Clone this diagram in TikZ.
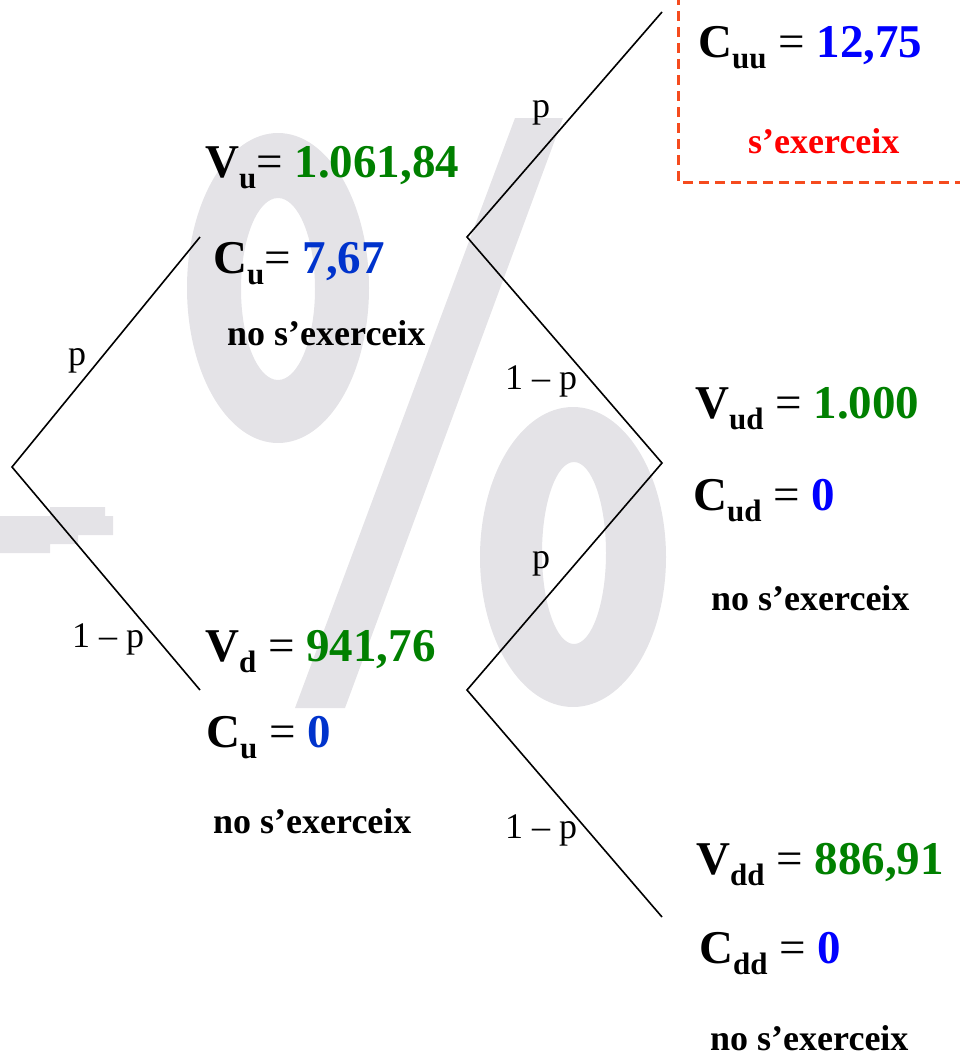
\documentclass[tikz,border=0pt]{standalone}
\usepackage{fontspec}
\setmainfont{Liberation Serif}
\definecolor{vgreen}{RGB}{0,128,0}
\definecolor{cblue}{RGB}{0,0,255}
\definecolor{cbluedark}{RGB}{0,51,204}
\definecolor{wmgrey}{RGB}{228,227,231}
\definecolor{boxred}{RGB}{245,75,30}
\definecolor{notered}{RGB}{255,0,0}
\newcommand{\sbs}[1]{{\fontsize{31}{31}\selectfont\lower11pt\hbox{#1}}}
\newcommand{\eqs}{\textmd{=}}
\tikzset{
  val/.style={anchor=base west, inner sep=0pt, font=\fontsize{47}{47}\selectfont\bfseries},
  lbl/.style={anchor=base west, inner sep=0pt, font=\fontsize{36}{36}\selectfont},
  note/.style={anchor=base west, inner sep=0pt, font=\fontsize{36}{36}\selectfont\bfseries},
  branch/.style={draw=black, line width=1.6pt},
  wm/.style={fill=wmgrey, draw=none},
  exbox/.style={draw=boxred, line width=3pt, dash pattern=on 10pt off 6pt}
}
\begin{document}
\begin{tikzpicture}[x=1pt,y=-1pt]
\useasboundingbox (0,0) rectangle (959,1057);
% watermark
\fill[wm, even odd rule] (278,288) ellipse [x radius=91, y radius=155] (278,289) ellipse [x radius=37, y radius=91];
\fill[wm, even odd rule] (573,557) ellipse [x radius=93, y radius=150] (574,553) ellipse [x radius=32, y radius=91];
\fill[wm] (515,118) -- (563,118) -- (345,708) -- (295,708) -- cycle;
\fill[wm] (0,516) -- (50,516) -- (50,507) -- (105,507) -- (105,516) -- (113,516) -- (113,535) -- (78,535) -- (78,544) -- (50,544) -- (50,553) -- (0,553) -- cycle;
% dashed box
\coordinate (bxtop) at (678,-5);
\coordinate (bxcorner) at (678,182);
\coordinate (bxright) at (965,182);
\draw[exbox] (bxtop) -- (bxcorner) -- (bxright);
% tree vertices
\coordinate (r) at (12,467);
\coordinate (u) at (200,237);
\coordinate (d) at (200,690);
\coordinate (u2) at (467,237);
\coordinate (d2) at (467,690);
\coordinate (uu) at (662,12);
\coordinate (ud) at (662,463);
\coordinate (dd) at (662,917);
\draw[branch] (u) -- (r) -- (d);
\draw[branch] (uu) -- (u2) -- (ud) -- (d2) -- (dd);
% branch labels
\node[lbl] (l1) at (68,365) {p};
\node[lbl] (l2) at (72,647) {1 – p};
\node[lbl] (l3) at (532,117) {p};
\node[lbl] (l4) at (505,389) {1 – p};
\node[lbl] (l5) at (532,568) {p};
\node[lbl] (l6) at (505,838) {1 – p};
% values
\node[val] (cuu) at (698,57) {C\sbs{uu} \eqs{} \textcolor{cblue}{12,75}};
\node[note, text=notered] (ex) at (748,153) {s’exerceix};
\node[val] (vu) at (205,177) {V\sbs{u}\eqs{} \textcolor{vgreen}{1.061,84}};
\node[val] (cu) at (213,273) {C\sbs{u}\eqs{} \textcolor{cbluedark}{7,67}};
\node[note] (nu) at (227,345) {no s’exerceix};
\node[val] (vud) at (695,418) {V\sbs{ud} \eqs{} \textcolor{vgreen}{1.000}};
\node[val] (cud) at (693,510) {C\sbs{ud} \eqs{} \textcolor{cblue}{0}};
\node[note] (nud) at (711,610) {no s’exerceix};
\node[val] (vd) at (205,661) {V\sbs{d} \eqs{} \textcolor{vgreen}{941,76}};
\node[val] (cd) at (206,747) {C\sbs{u} \eqs{} \textcolor{cbluedark}{0}};
\node[note] (nd) at (213,833) {no s’exerceix};
\node[val] (vdd) at (696,874) {V\sbs{dd} \eqs{} \textcolor{vgreen}{886,91}};
\node[val] (cdd) at (699,963) {C\sbs{dd} \eqs{} \textcolor{cblue}{0}};
\node[note] (ndd) at (710,1050) {no s’exerceix};
\end{tikzpicture}
\end{document}
